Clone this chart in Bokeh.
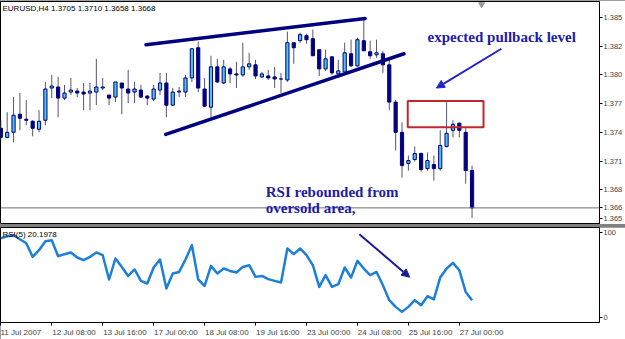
from bokeh.plotting import figure
from bokeh.layouts import column
from bokeh.models import (ColumnDataSource, Range1d, LinearAxis, FixedTicker, Label,
                          Span, Arrow, NormalHead, BoxAnnotation)
from bokeh.embed import file_html
from bokeh.resources import INLINE

# ---------------- data ----------------
opens = [1.3747,1.3738,1.3743,1.3761,1.3756,1.3754,1.3746,1.3755,1.3787,1.3788,
         1.3777,1.3783,1.3784,1.3783,1.3782,1.3783,1.3787,1.3780,1.3778,1.3792,
         1.3786,1.3783,1.3785,1.3779,1.3776,1.3785,1.3792,1.3770,1.3783,1.3783,
         1.3797,1.3827,1.3786,1.3768,1.3808,1.3792,1.3806,1.3801,1.3800,1.3808,
         1.3810,1.3798,1.3799,1.3798,1.3796,1.3795,1.3832,1.3834,1.3839,1.3836,
         1.3825,1.3806,1.3818,1.3801,1.3803,1.3821,1.3809,1.3834,1.3823,1.3820,
         1.3821,1.3810,1.3773,1.3743,1.3712,1.3716,1.3722,1.3707,1.3711,1.3707,
         1.3729,1.3745,1.3752,1.3743,1.3705]
closes = [1.3738,1.3743,1.3760,1.3757,1.3755,1.3747,1.3754,1.3786,1.3789,1.3777,
          1.3782,1.3785,1.3782,1.3781,1.3784,1.3788,1.3788,1.3777,1.3793,1.3787,
          1.3782,1.3786,1.3778,1.3777,1.3786,1.3792,1.3770,1.3783,1.3784,1.3797,
          1.3826,1.3787,1.3769,1.3808,1.3793,1.3808,1.3801,1.3800,1.3808,1.3811,
          1.3799,1.3801,1.3797,1.3796,1.3796,1.3832,1.3827,1.3840,1.3835,1.3819,
          1.3806,1.3816,1.3802,1.3804,1.3822,1.3809,1.3835,1.3824,1.3819,1.3822,
          1.3810,1.3773,1.3743,1.3710,1.3715,1.3722,1.3706,1.3715,1.3707,1.3730,
          1.3742,1.3751,1.3745,1.3705,1.3668]
highs = [1.3755,1.3763,1.3778,1.3782,1.3775,1.3755,1.3765,1.3793,1.3800,1.3798,
         1.3790,1.3797,1.3787,1.3792,1.3792,1.3816,1.3797,1.3780,1.3793,1.3792,
         1.3805,1.3793,1.3790,1.3780,1.3790,1.3802,1.3802,1.3787,1.3788,1.3800,
         1.3826,1.3833,1.3797,1.3819,1.3816,1.3815,1.3808,1.3813,1.3832,1.3822,
         1.3815,1.3803,1.3805,1.3808,1.3802,1.3843,1.3832,1.3842,1.3841,1.3845,
         1.3825,1.3825,1.3818,1.3815,1.3832,1.3835,1.3837,1.3856,1.3834,1.3835,
         1.3824,1.3816,1.3775,1.3753,1.3720,1.3729,1.3723,1.3723,1.3720,1.3745,
         1.3773,1.3755,1.3753,1.3748,1.3710]
lows = [1.3735,1.3737,1.3733,1.3745,1.3750,1.3739,1.3743,1.3750,1.3777,1.3758,
        1.3775,1.3780,1.3778,1.3765,1.3765,1.3770,1.3785,1.3770,1.3773,1.3761,
        1.3772,1.3772,1.3777,1.3770,1.3774,1.3780,1.3758,1.3769,1.3778,1.3778,
        1.3793,1.3783,1.3768,1.3758,1.3792,1.3791,1.3792,1.3787,1.3798,1.3805,
        1.3796,1.3797,1.3795,1.3787,1.3782,1.3793,1.3811,1.3832,1.3831,1.3819,
        1.3799,1.3804,1.3800,1.3801,1.3803,1.3808,1.3808,1.3824,1.3816,1.3817,
        1.3802,1.3765,1.3725,1.3698,1.3705,1.3714,1.3704,1.3705,1.3695,1.3705,
        1.3728,1.3738,1.3738,1.3692,1.3658]
rsi = [93.3,95.6,96.8,92.1,87.4,71.3,79.2,89.8,90.9,72.1,
       74.5,76.5,70.6,67.4,71.3,76.5,73.3,44.7,69.4,59.5,
       48.9,56.5,43.1,40.0,58.8,68.2,34.1,51.8,53.6,68.2,
       85.1,44.7,37.2,60.7,51.8,57.6,54.8,52.9,59.5,61.5,
       47.8,48.9,45.1,43.1,41.2,81.2,74.5,81.2,73.3,61.5,
       36.0,49.8,36.0,39.2,58.8,47.1,66.6,57.6,49.8,53.6,
       38.0,20.4,12.5,6.6,12.5,20.4,14.5,25.1,21.2,47.1,
       57.6,64.2,55.6,30.1,20.2]

time_tick_bars = [0, 8, 16, 24, 32, 40, 48, 56, 64, 72]
time_tick_labels = ["11 Jul 2007", "12 Jul 08:00", "13 Jul 16:00", "17 Jul 00:00",
                    "18 Jul 08:00", "19 Jul 16:00", "23 Jul 00:00", "24 Jul 08:00",
                    "25 Jul 16:00", "27 Jul 00:00"]
price_ticks = [1.3857, 1.38285, 1.3800, 1.37715, 1.3743, 1.37145, 1.3686, 1.36575]
price_tick_labels = ["1.385", "1.382", "1.380", "1.377", "1.374", "1.371", "1.368", "1.365"]
rsi_ticks = [0, 100]
last_price = 1.3668
last_price_label = "1.366"
title_text = "EURUSD,H4  1.3705 1.3710 1.3658 1.3668"
rsi_text = "RSI(5) 20.1978"

# drawn objects (bar index, price / rsi)
upper_trend_x = [22.8, 57.2]
upper_trend_y = [1.3830, 1.3856]
lower_trend_x = [25.9, 63.3]
lower_trend_y = [1.3741, 1.3821]
zone_left, zone_right, zone_bottom, zone_top = 63.9, 75.8, 1.3748, 1.3774
arrow1 = (78.6, 1.3826, 68.4, 1.3787)
arrow2 = (56.3, 98.0, 64.2, 47.4)
note1 = ("expected pullback level", 67.0, 1.3838)
note2 = ("RSI rebounded from", 41.6, 1.3684)
note3 = ("oversold area,", 41.6, 1.36675)

# ---------------- layout constants ----------------
W = 625
BORDER_R = 23
FRAME_W = W - BORDER_R
BAR_PX = 6.4
X0 = -0.05
X1 = X0 + FRAME_W / BAR_PX

DARK = "#000080"
UPFILL = "#4FC3EC"
WICK = "#55556E"
NOTE = "#1C1CAA"
SMALL_FONT = "Liberation Sans"
TICK_FS = 8.0

# approximate Arial/Liberation Sans advance widths (em) used to left-align tick labels
_ADV = {" ": 0.278, ":": 0.278, ".": 0.278, "J": 0.5, "u": 0.556, "l": 0.222}


def left_aligned(s, fs=TICK_FS):
    # centred label + leading padding of the same width -> text starts just right of the tick
    w = sum(_ADV.get(ch, 0.556) for ch in s) * fs
    n = int(round((w + 2.0) / (0.278 * fs)))
    return "\u00a0" * n + s


x_overrides = {}
for k, (t, s) in enumerate(zip(time_tick_bars, time_tick_labels)):
    # the first label sits at the left edge; the renderer keeps it inside the canvas
    x_overrides[t] = s if k == 0 else left_aligned(s)

idx = list(range(len(opens)))
up_x = [i for i in idx if closes[i] >= opens[i]]
dn_x = [i for i in idx if closes[i] < opens[i]]
src = ColumnDataSource(dict(x=idx, o=opens, h=highs, l=lows, c=closes))
src_up = ColumnDataSource(dict(x=up_x, top=[closes[i] for i in up_x], bot=[opens[i] for i in up_x]))
src_dn = ColumnDataSource(dict(x=dn_x, top=[opens[i] for i in dn_x], bot=[closes[i] for i in dn_x]))


def style_right_axis(ax):
    ax.major_label_text_font = SMALL_FONT
    ax.major_label_text_font_size = "7.5px"
    ax.major_tick_in = 0
    ax.major_tick_out = 3
    ax.minor_tick_out = 0
    ax.minor_tick_in = 0
    ax.major_label_standoff = 1
    ax.axis_line_color = "black"


# ---------------- price panel ----------------
p = figure(width=W, height=224, output_backend="svg", toolbar_location=None,
           x_range=Range1d(X0, X1), y_range=Range1d(1.36515, 1.38729),
           min_border_left=0, min_border_right=BORDER_R, min_border_top=1, min_border_bottom=0,
           x_axis_location=None, y_axis_location=None)
p.grid.visible = False
p.outline_line_color = "black"
p.background_fill_color = "white"

ax_ticks = price_ticks + [last_price]
ax_labels = price_tick_labels + [last_price_label]
ax = LinearAxis(ticker=FixedTicker(ticks=ax_ticks),
                major_label_overrides={t: s for t, s in zip(ax_ticks, ax_labels)})
style_right_axis(ax)
p.add_layout(ax, "right")

p.add_layout(Span(location=last_price, dimension="width", line_color="#707070", line_width=1))

p.segment(x0="x", y0="l", x1="x", y1="h", source=src, line_color=WICK, line_width=1)
p.vbar(x="x", top="top", bottom="bot", width=0.5, source=src_up,
       fill_color=UPFILL, line_color=DARK, line_width=1)
p.vbar(x="x", top="top", bottom="bot", width=0.5, source=src_dn,
       fill_color=DARK, line_color=DARK, line_width=1)

p.line(upper_trend_x, upper_trend_y, line_color=DARK, line_width=3.5, line_cap="round")
p.line(lower_trend_x, lower_trend_y, line_color=DARK, line_width=3.5, line_cap="round")

p.add_layout(BoxAnnotation(left=zone_left, right=zone_right, bottom=zone_bottom, top=zone_top,
                           fill_alpha=0, line_color="#C0282D", line_alpha=1.0, line_width=2))

p.add_layout(Arrow(end=NormalHead(size=8, fill_color="#2424C8", line_color="#2424C8"),
                   x_start=arrow1[0], y_start=arrow1[1], x_end=arrow1[2], y_end=arrow1[3],
                   line_color="#2424C8", line_width=2))

for txt, tx, ty in (note1, note2, note3):
    p.add_layout(Label(x=tx, y=ty, text=txt, text_font="Liberation Serif", text_font_style="bold",
                       text_font_size="15px", text_color=NOTE, text_baseline="middle", text_align="left"))

p.add_layout(Label(x=X0, y=1.38729, x_offset=2, y_offset=-2, text=title_text,
                   text_font=SMALL_FONT, text_font_size="8px", text_color="black",
                   text_baseline="top", text_align="left"))

p.scatter([len(opens) + 0.5], [1.3870], marker="inverted_triangle", size=6,
          fill_color="#9a9a9a", line_color="#9a9a9a")

# ---------------- RSI panel ----------------
r = figure(width=W, height=112, output_backend="svg", toolbar_location=None,
           x_range=p.x_range, y_range=Range1d(-5.88, 105.88),
           min_border_left=0, min_border_right=BORDER_R, min_border_top=0, min_border_bottom=17,
           x_axis_location=None, y_axis_location=None)
r.grid.visible = False
r.outline_line_color = "black"

ry = LinearAxis(ticker=FixedTicker(ticks=rsi_ticks))
style_right_axis(ry)
r.add_layout(ry, "right")

rx = LinearAxis(ticker=FixedTicker(ticks=time_tick_bars), major_label_overrides=x_overrides)
rx.major_tick_in = 0
rx.major_tick_out = 3
rx.minor_tick_in = 0
rx.minor_tick_out = 0
rx.major_label_standoff = 2
rx.major_label_text_font = SMALL_FONT
rx.major_label_text_font_size = "%gpx" % TICK_FS
rx.axis_line_color = "black"
r.add_layout(rx, "below")

r.line(idx, rsi, line_color="#1E7FD8", line_width=2.5, line_join="round")

r.add_layout(Arrow(end=NormalHead(size=8, fill_color="#1A1A9A", line_color="#1A1A9A"),
                   x_start=arrow2[0], y_start=arrow2[1], x_end=arrow2[2], y_end=arrow2[3],
                   line_color="#1A1A9A", line_width=2))

r.add_layout(Label(x=X0, y=105.88, x_offset=2, y_offset=-2, text=rsi_text,
                   text_font=SMALL_FONT, text_font_size="8px", text_color="black",
                   text_baseline="top", text_align="left"))

layout = column(p, r, spacing=3, styles={"background-color": "#808080"})
open("out.html", "w").write(file_html(layout, INLINE))
